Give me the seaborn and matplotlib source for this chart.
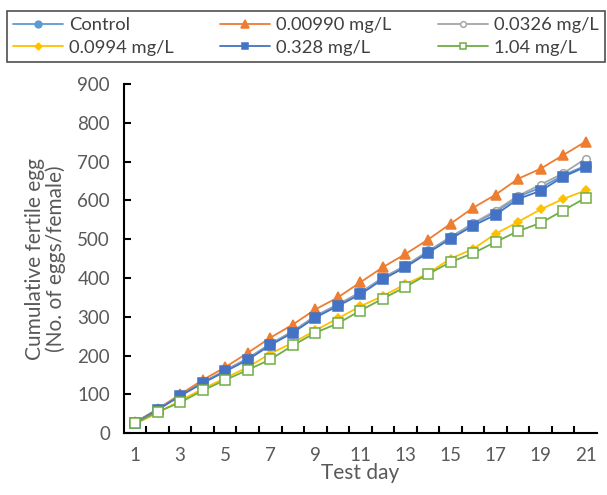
import matplotlib
matplotlib.use("Agg")
import matplotlib.pyplot as plt
import seaborn as sns
import pandas as pd
import numpy as np
from matplotlib.ticker import FixedLocator

days = list(range(1, 22))
labels = ["Control", "0.00990 mg/L", "0.0326 mg/L", "0.0994 mg/L", "0.328 mg/L", "1.04 mg/L"]
control = [27, 62, 98, 131, 162, 193, 230, 263, 302, 332, 363, 401, 432, 469, 506, 540, 570, 610, 633, 665, 690]
c00990 = [28, 62, 100, 137, 170, 207, 246, 280, 319, 350, 389, 428, 462, 499, 540, 581, 615, 656, 682, 717, 752]
c0326 = [27, 61, 97, 130, 161, 192, 229, 262, 300, 331, 362, 400, 431, 468, 504, 541, 574, 612, 641, 670, 708]
c0994 = [24, 52, 84, 114, 142, 170, 205, 233, 265, 296, 327, 354, 384, 412, 450, 475, 514, 545, 577, 604, 626]
c328 = [26, 60, 96, 129, 159, 189, 227, 259, 298, 328, 358, 397, 428, 465, 501, 535, 563, 604, 625, 661, 687]
c104 = [25, 55, 79, 110, 137, 163, 190, 226, 259, 283, 316, 347, 377, 410, 441, 464, 493, 521, 542, 574, 607]
series = [control, c00990, c0326, c0994, c328, c104]

colors = ["#5B9BD5", "#ED7D31", "#A5A5A5", "#FFC000", "#4472C4", "#70AD47"]
markers = ["o", "^", "o", "D", "s", "s"]
msizes = [6.5, 7.5, 5.5, 4.5, 6.5, 6.5]
faces = ["#5B9BD5", "#ED7D31", "white", "#FFC000", "#4472C4", "white"]

sns.set_style("white")
plt.rcParams["font.family"] = ["Lato", "DejaVu Sans"]

fig = plt.figure(figsize=(6.07, 4.95), dpi=100)
ax = fig.add_axes([0.204, 0.125, 0.7795, 0.705])

rows = []
for lab, vals in zip(labels, series):
    for d, v in zip(days, vals):
        rows.append({"day": d, "value": v, "group": lab})
df = pd.DataFrame(rows)

handles = []
for lab, col, mk, ms, fc in zip(labels, colors, markers, msizes, faces):
    sub = df[df["group"] == lab]
    sns.lineplot(data=sub, x="day", y="value", ax=ax, color=col, marker=mk,
                 markersize=ms, markerfacecolor=fc, markeredgecolor=col,
                 markeredgewidth=1.1, linewidth=1.3, label=lab, legend=False)
    handles.append(ax.lines[-1])

ax.set_xlim(0.5, 21.5)
ax.set_ylim(0, 900)
ax.set_yticks(range(0, 901, 100))
ax.set_xticks(list(range(1, 22, 2)))
ax.xaxis.set_minor_locator(FixedLocator([d + 0.5 for d in range(1, 21)]))
ax.tick_params(axis="x", which="major", length=0, labelsize=13.5, labelcolor="#595959", pad=10)
ax.tick_params(axis="x", which="minor", length=5, width=1.5, direction="in", color="black", bottom=True)
ax.tick_params(axis="y", which="major", length=5, width=1.5, direction="in", color="black",
               labelsize=13.5, labelcolor="#595959", pad=10, left=True)
for s in ["top", "right"]:
    ax.spines[s].set_visible(False)
for s in ["left", "bottom"]:
    ax.spines[s].set_color("black")
    ax.spines[s].set_linewidth(1.5)

ax.set_xlabel("Test day", fontsize=15, color="#595959", labelpad=-1)
ax.set_ylabel("Cumulative fertile egg\n(No. of eggs/female)", fontsize=15, color="#595959",
              labelpad=8, linespacing=1.05)

order = [0, 3, 1, 4, 2, 5]
leg = fig.legend([handles[i] for i in order], [labels[i] for i in order], ncol=3,
                 loc="upper left", bbox_to_anchor=(0.0115, 0.873, 0.985, 0.105), mode="expand",
                 frameon=True, fancybox=False, edgecolor="#222222", fontsize=13.2,
                 handlelength=2.7, handletextpad=0.35, borderaxespad=0, labelspacing=0.36,
                 borderpad=0.33, columnspacing=0.8, markerscale=0.75)
leg.get_frame().set_linewidth(1.2)
for t in leg.get_texts():
    t.set_color("#404040")

fig.savefig("out.png", dpi=100, facecolor="white")
